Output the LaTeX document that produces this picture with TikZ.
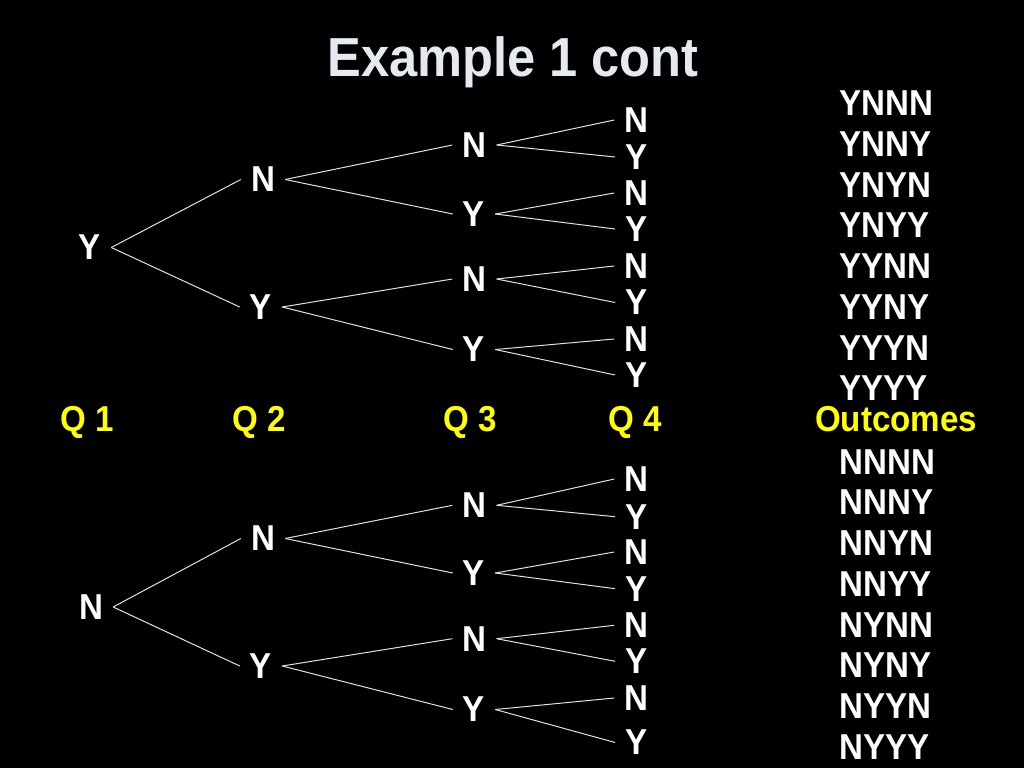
\documentclass[tikz,border=0pt]{standalone}
\usepackage{fontspec}
\setmainfont{Liberation Sans}[FakeStretch=0.92]
\definecolor{titlecol}{RGB}{228,234,240}
\definecolor{qcol}{RGB}{255,255,0}
\definecolor{edgecol}{RGB}{225,225,225}
\begin{document}
\begin{tikzpicture}[x=1pt,y=-1pt,
  lbl/.style={text=white,font=\fontsize{36}{40}\selectfont\bfseries,inner xsep=10pt,inner ysep=0pt},
  qlbl/.style={text=qcol,font=\fontsize{36}{40}\selectfont\bfseries,inner sep=0pt,anchor=base},
  outc/.style={text=white,font=\fontsize{36}{40}\selectfont\bfseries,inner sep=0pt,anchor=west},
  ttl/.style={text=titlecol,font=\fontsize{55}{60}\selectfont\bfseries,inner sep=0pt,anchor=base},
  edge/.style={draw=edgecol,line width=1pt}]
\fill[black] (0,0) rectangle (1024,768);
\useasboundingbox (0,0) rectangle (1024,768);

\node[ttl] (title) at (513,76) {Example 1 cont};

% ---------- top tree ----------
\node[lbl] (r1) at (90,247.5) {Y};
\node[lbl] (a1) at (263,179.5) {N};
\node[lbl] (a2) at (261,307) {Y};
\node[lbl] (b1) at (474.5,145) {N};
\node[lbl] (b2) at (474,214) {Y};
\node[lbl] (b3) at (474.5,279) {N};
\node[lbl] (b4) at (474,349.5) {Y};
\node[lbl] (c1) at (636.4,120) {N};
\node[lbl] (c2) at (636.4,157) {Y};
\node[lbl] (c3) at (636.4,193) {N};
\node[lbl] (c4) at (636.4,229) {Y};
\node[lbl] (c5) at (636.4,266) {N};
\node[lbl] (c6) at (636.4,302.5) {Y};
\node[lbl] (c7) at (636.4,339) {N};
\node[lbl] (c8) at (636.4,375) {Y};

\draw[edge] (r1.east) -- (a1.west);
\draw[edge] (r1.east) -- (a2.west);
\draw[edge] (a1.east) -- (b1.west);
\draw[edge] (a1.east) -- (b2.west);
\draw[edge] (a2.east) -- (b3.west);
\draw[edge] (a2.east) -- (b4.west);
\draw[edge] (b1.east) -- (c1.west);
\draw[edge] (b1.east) -- (c2.west);
\draw[edge] (b2.east) -- (c3.west);
\draw[edge] (b2.east) -- (c4.west);
\draw[edge] (b3.east) -- (c5.west);
\draw[edge] (b3.east) -- (c6.west);
\draw[edge] (b4.east) -- (c7.west);
\draw[edge] (b4.east) -- (c8.west);

% ---------- column labels ----------
\node[qlbl] (q1) at (87.5,431) {Q 1};
\node[qlbl] (q2) at (259,431) {Q 2};
\node[qlbl] (q3) at (470.5,431) {Q 3};
\node[qlbl] (q4) at (635,431) {Q 4};
\node[qlbl] (qo) at (896,431) {Outcomes};

% ---------- bottom tree ----------
\node[lbl] (r2) at (91,607) {N};
\node[lbl] (d1) at (263,538.5) {N};
\node[lbl] (d2) at (261,666) {Y};
\node[lbl] (e1) at (474.5,505.3) {N};
\node[lbl] (e2) at (474,573) {Y};
\node[lbl] (e3) at (474.5,638.7) {N};
\node[lbl] (e4) at (474,709.5) {Y};
\node[lbl] (f1) at (636.4,479) {N};
\node[lbl] (f2) at (636.4,516.7) {Y};
\node[lbl] (f3) at (636.4,552) {N};
\node[lbl] (f4) at (636.4,588.7) {Y};
\node[lbl] (f5) at (636.4,625.3) {N};
\node[lbl] (f6) at (636.4,661.3) {Y};
\node[lbl] (f7) at (636.4,698) {N};
\node[lbl] (f8) at (636.4,742.5) {Y};

\draw[edge] (r2.east) -- (d1.west);
\draw[edge] (r2.east) -- (d2.west);
\draw[edge] (d1.east) -- (e1.west);
\draw[edge] (d1.east) -- (e2.west);
\draw[edge] (d2.east) -- (e3.west);
\draw[edge] (d2.east) -- (e4.west);
\draw[edge] (e1.east) -- (f1.west);
\draw[edge] (e1.east) -- (f2.west);
\draw[edge] (e2.east) -- (f3.west);
\draw[edge] (e2.east) -- (f4.west);
\draw[edge] (e3.east) -- (f5.west);
\draw[edge] (e3.east) -- (f6.west);
\draw[edge] (e4.east) -- (f7.west);
\draw[edge] (e4.east) -- (f8.west);

% ---------- outcomes ----------
\node[outc] (o1) at (839.5,103) {YNNN};
\node[outc] (o2) at (839.5,144) {YNNY};
\node[outc] (o3) at (839.5,185) {YNYN};
\node[outc] (o4) at (839.5,225) {YNYY};
\node[outc] (o5) at (839.5,266) {YYNN};
\node[outc] (o6) at (839.5,307) {YYNY};
\node[outc] (o7) at (839.5,348) {YYYN};
\node[outc] (o8) at (839.5,388) {YYYY};
\node[outc] (p1) at (839.5,462) {NNNN};
\node[outc] (p2) at (839.5,502) {NNNY};
\node[outc] (p3) at (839.5,543) {NNYN};
\node[outc] (p4) at (839.5,584) {NNYY};
\node[outc] (p5) at (839.5,625) {NYNN};
\node[outc] (p6) at (839.5,665) {NYNY};
\node[outc] (p7) at (839.5,706) {NYYN};
\node[outc] (p8) at (839.5,747) {NYYY};
\end{tikzpicture}
\end{document}
